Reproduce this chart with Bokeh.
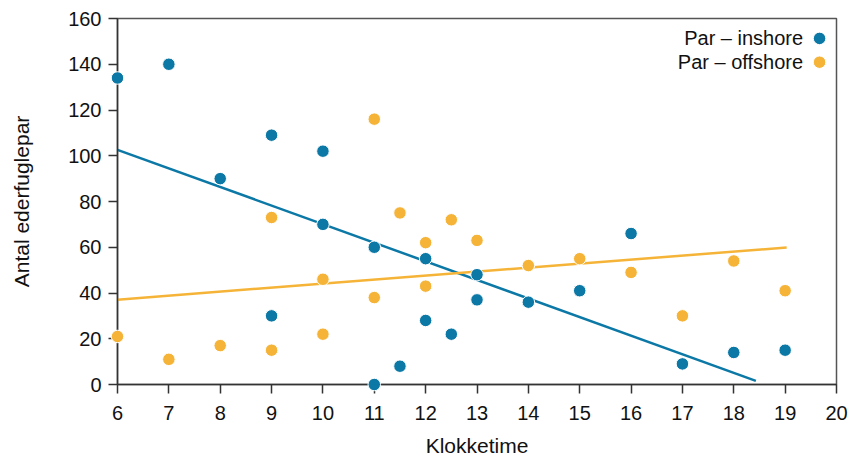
from bokeh.plotting import figure
from bokeh.models import Range1d, FixedTicker, Label
from bokeh.embed import file_html
from bokeh.resources import INLINE

# ---- data ----
inshore_hour = [6, 7, 8, 9, 9, 10, 10, 11, 11, 11.5, 12, 12, 12.5, 13, 13, 14, 15, 16, 17, 18, 19]
inshore_pairs = [134, 140, 90, 109, 30, 102, 70, 60, 0, 8, 55, 28, 22, 48, 37, 36, 41, 66, 9, 14, 15]

offshore_hour = [6, 7, 8, 9, 9, 10, 10, 11, 11, 11.5, 12, 12, 12.5, 13, 14, 15, 16, 17, 18, 19]
offshore_pairs = [21, 11, 17, 73, 15, 46, 22, 116, 38, 75, 62, 43, 72, 63, 52, 55, 49, 30, 54, 41]

inshore_trend_x = [6, 18.43]
inshore_trend_y = [102.6, 1.6]
offshore_trend_x = [6, 19.03]
offshore_trend_y = [37.1, 59.9]

x_ticks = list(range(6, 21))
y_ticks = [0, 20, 40, 60, 80, 100, 120, 140, 160]

series_names = ["Par \u2013 inshore", "Par \u2013 offshore"]
x_title = "Klokketime"
y_title = "Antal ederfuglepar"

BLUE = "#0b78a6"
ORANGE = "#f5b437"
FONT = "Liberation Sans"
FS = "20px"

p = figure(width=850, height=459, output_backend="svg", toolbar_location=None,
           x_range=Range1d(6, 20), y_range=Range1d(0, 160),
           min_border_left=117, min_border_right=14, min_border_top=18, min_border_bottom=70)

p.xgrid.visible = False
p.ygrid.visible = False
p.outline_line_color = "#555555"
p.outline_line_width = 1.5
p.background_fill_color = "white"
p.border_fill_color = "white"

for ax in (p.xaxis[0], p.yaxis[0]):
    ax.axis_line_color = "#333333"
    ax.axis_line_width = 1.5
    ax.major_tick_line_color = "#333333"
    ax.major_tick_line_width = 1.5
    ax.major_tick_in = 0
    ax.major_tick_out = 9
    ax.minor_tick_line_color = None
    ax.major_label_text_font = FONT
    ax.major_label_text_font_size = FS
    ax.major_label_text_color = "#111111"
    ax.axis_label_text_font = FONT
    ax.axis_label_text_font_size = "21px"
    ax.axis_label_text_font_style = "normal"
    ax.axis_label_text_color = "#111111"

p.xaxis.ticker = FixedTicker(ticks=x_ticks)
p.yaxis.ticker = FixedTicker(ticks=y_ticks)
p.xaxis.axis_label = x_title
p.yaxis.axis_label = y_title
p.xaxis.major_label_standoff = 12
p.xaxis.axis_label_standoff = 11
p.yaxis.major_label_standoff = 7
p.yaxis.axis_label_standoff = 32

# trend lines
p.line(inshore_trend_x, inshore_trend_y, line_color=BLUE, line_width=2.5)
p.line(offshore_trend_x, offshore_trend_y, line_color=ORANGE, line_width=2.5)

# points
r1 = p.scatter(inshore_hour, inshore_pairs, size=12.5, fill_color=BLUE, line_color="white", line_width=1)
r2 = p.scatter(offshore_hour, offshore_pairs, size=12.5, fill_color=ORANGE, line_color="white", line_width=1)
r1.level = "overlay"
r2.level = "overlay"

# legend (text right-aligned, dot on right)
legend_text_x = 19.35
legend_dot_x = 19.67
legend_y = [151.3, 140.9]
legend_colors = [BLUE, ORANGE]
for name, yy in zip(series_names, legend_y):
    p.add_layout(Label(x=legend_text_x, y=yy, text=name, text_align="right", text_baseline="middle",
                       text_font=FONT, text_font_size=FS, text_color="#111111"))
p.scatter([legend_dot_x] * 2, legend_y, size=12.5, fill_color=legend_colors, line_color="white", line_width=1)

open("out.html", "w").write(file_html(p, INLINE))
